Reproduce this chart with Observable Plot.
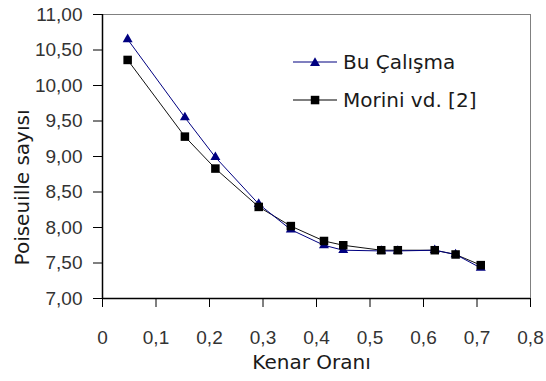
<!DOCTYPE html>
<html>
<head>
<meta charset="utf-8">
<script src="https://cdn.jsdelivr.net/npm/d3@7"></script>
<script src="https://cdn.jsdelivr.net/npm/@observablehq/plot@0.6"></script>
<style>
  html, body { margin: 0; padding: 0; background: #fff; }
  #wrap { position: relative; width: 546px; height: 381px; }
  .legend { position: absolute; left: 293px; top: 43px; font-family: "DejaVu Sans", sans-serif; font-size: 20px; color: #1a1a1a; }
  .legend .row { display: flex; align-items: center; height: 38px; }
  .legend svg { margin-right: 6px; }
</style>
</head>
<body>
<div id="wrap"></div>
<script>
// Data
const kenarOrani = [0.047, 0.154, 0.211, 0.292, 0.352, 0.414, 0.450, 0.521, 0.552, 0.621, 0.660, 0.707];
const buCalisma  = [10.65, 9.55, 8.99, 8.33, 7.97, 7.75, 7.68, 7.67, 7.67, 7.68, 7.62, 7.43];
const morini     = [10.36, 9.28, 8.83, 8.29, 8.02, 7.81, 7.75, 7.68, 7.68, 7.68, 7.62, 7.47];
const seriesNames = ["Bu Çalışma", "Morini vd. [2]"];
const xTicks = [0, 0.1, 0.2, 0.3, 0.4, 0.5, 0.6, 0.7, 0.8];
const yTicks = [7, 7.5, 8, 8.5, 9, 9.5, 10, 10.5, 11];
const xTitle = "Kenar Oranı";
const yTitle = "Poiseuille sayısı";

const blue = "#000080";
const black = "#000000";

const bu = kenarOrani.map((x, i) => ({x, y: buCalisma[i]}));
const mo = kenarOrani.map((x, i) => ({x, y: morini[i]}));

const commaFmt2 = d => d.toFixed(2).replace(".", ",");
const commaFmtX = d => d === 0 ? "0" : d.toFixed(1).replace(".", ",");

const chart = Plot.plot({
  width: 546,
  height: 381,
  marginLeft: 102,
  marginRight: 16,
  marginTop: 14,
  marginBottom: 83,
  style: {fontFamily: "'Liberation Sans', Arial, sans-serif", fontSize: "19px", color: "#333", background: "#fff"},
  x: {domain: [0, 0.8]},
  y: {domain: [7, 11]},
  marks: [
    Plot.ruleY([11], {stroke: "#808080", strokeWidth: 1}),
    Plot.ruleX([0.8], {stroke: "#808080", strokeWidth: 1}),
    Plot.axisX({ticks: xTicks, tickFormat: commaFmtX, tickSize: 9, tickPadding: 23, stroke: black, strokeOpacity: 1, label: null, fill: "#333"}),
    Plot.axisY({ticks: yTicks, tickFormat: commaFmt2, tickSize: 9, tickPadding: 11, stroke: black, strokeOpacity: 1, label: null, fill: "#333"}),
    Plot.ruleX([0], {stroke: black, strokeWidth: 1.5}),
    Plot.ruleY([7], {stroke: black, strokeWidth: 1.5}),
    Plot.line(mo, {x: "x", y: "y", stroke: "#111", strokeWidth: 1}),
    Plot.line(bu, {x: "x", y: "y", stroke: blue, strokeWidth: 1}),
    Plot.dot(bu, {x: "x", y: "y", symbol: "triangle", r: 3.7, fill: blue, stroke: "none"}),
    Plot.dot(mo, {x: "x", y: "y", symbol: "square", r: 4.8, fill: black, stroke: "none"}),
    Plot.text([xTitle], {frameAnchor: "bottom", dy: 64, dx: -5, fontSize: 20, fontFamily: "'DejaVu Sans', sans-serif", fill: "#1a1a1a", lineAnchor: "middle", textAnchor: "middle"}),
    Plot.text([yTitle], {frameAnchor: "left", dx: -80, dy: 31, rotate: -90, fontSize: 20, fontFamily: "'DejaVu Sans', sans-serif", fill: "#1a1a1a", lineAnchor: "middle", textAnchor: "middle"})
  ]
});

const wrap = document.getElementById("wrap");
wrap.appendChild(chart);

// Legend (inside the plot area, upper right)
const legend = document.createElement("div");
legend.className = "legend";
const sw = [
  `<svg width="44" height="12"><line x1="0" y1="6" x2="44" y2="6" stroke="${blue}" stroke-width="1.2"/><path d="M22,1.2 L27,9.9 L17,9.9 Z" fill="${blue}"/></svg>`,
  `<svg width="44" height="12"><line x1="0" y1="6" x2="44" y2="6" stroke="${black}" stroke-width="1.2"/><rect x="17.8" y="1.8" width="8.5" height="8.5" fill="${black}"/></svg>`
];
seriesNames.forEach((name, i) => {
  const row = document.createElement("div");
  row.className = "row";
  row.innerHTML = sw[i] + `<span>${name}</span>`;
  legend.appendChild(row);
});
wrap.appendChild(legend);
</script>
</body>
</html>
